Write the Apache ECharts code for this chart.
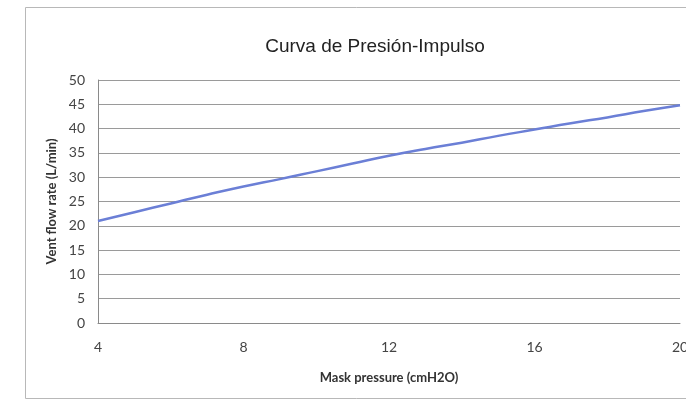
<!DOCTYPE html>
<html>

<head>
    <meta charset="utf-8">
    <style>
        body {
            margin: 0;
            background-color: #fff;
        }

        #main {
            width: 686px;
            height: 402px;
        }
    </style>
</head>

<body>
    <div id="main"></div>

    <script src="https://cdn.jsdelivr.net/npm/echarts@6/dist/echarts.min.js"></script>
    <script type="text/javascript">
        // mask pressure (cmH2O) and vent flow (L/min)
        var pressure = [4, 5, 6, 7, 8, 9, 10, 11, 12, 13, 14, 15, 16, 17, 18, 19, 20];
        var flow = [21.0, 22.8, 24.6, 26.4, 28.1, 29.6, 31.2, 32.8, 34.4, 35.8, 37.1, 38.5, 39.8, 41.1, 42.3, 43.6, 44.8];

        var myChart = echarts.init(document.getElementById('main'));

        var points = [];
        for (var n = 0; n < pressure.length; n++) {
            points.push([pressure[n], flow[n]]);
        }

        var option = {
            backgroundColor: '#fff',
            animation: false,
            title: {
                text: 'Curva de Presión-Impulso',
                left: 370,
                textAlign: 'center',
                top: 32,
                textStyle: {
                    fontFamily: 'Liberation Sans',
                    fontWeight: 'normal',
                    fontSize: 19,
                    color: '#222'
                }
            },
            graphic: [{
                type: 'rect',
                shape: { x: 25.5, y: 7.5, width: 700, height: 391 },
                style: { fill: 'none', stroke: '#b8b8b8', lineWidth: 1 },
                silent: true
            }],
            grid: {
                left: 98,
                right: 6,
                top: 80,
                bottom: 79,
                outerBoundsMode: 'none'
            },
            xAxis: {
                type: 'value',
                min: 4,
                max: 20,
                interval: 4,
                name: 'Mask pressure (cmH2O)',
                nameLocation: 'middle',
                nameGap: 48,
                nameTextStyle: {
                    fontFamily: 'Lato',
                    fontWeight: 'bold',
                    fontSize: 13,
                    color: '#333'
                },
                axisLine: { lineStyle: { color: '#8a8a8a', width: 1 } },
                axisTick: { show: false },
                splitLine: { show: false },
                axisLabel: {
                    margin: 17,
                    fontFamily: 'Lato',
                    fontSize: 14,
                    color: '#444'
                }
            },
            yAxis: {
                type: 'value',
                min: 0,
                max: 50,
                interval: 5,
                name: 'Vent flow rate (L/min)',
                nameLocation: 'middle',
                nameGap: 34,
                nameTextStyle: {
                    fontFamily: 'Lato',
                    fontWeight: 'bold',
                    fontSize: 13,
                    color: '#333'
                },
                axisLine: { show: true, lineStyle: { color: '#8a8a8a', width: 1 } },
                axisTick: { show: false },
                splitLine: { lineStyle: { color: '#9a9a9a', width: 1 } },
                axisLabel: {
                    margin: 13,
                    fontFamily: 'Lato',
                    fontSize: 14,
                    color: '#444'
                }
            },
            series: [{
                type: 'line',
                data: points,
                showSymbol: false,
                smooth: true,
                lineStyle: {
                    color: '#6b7fd6',
                    width: 2.5
                }
            }]
        };

        myChart.setOption(option);
    </script>
</body>

</html>
